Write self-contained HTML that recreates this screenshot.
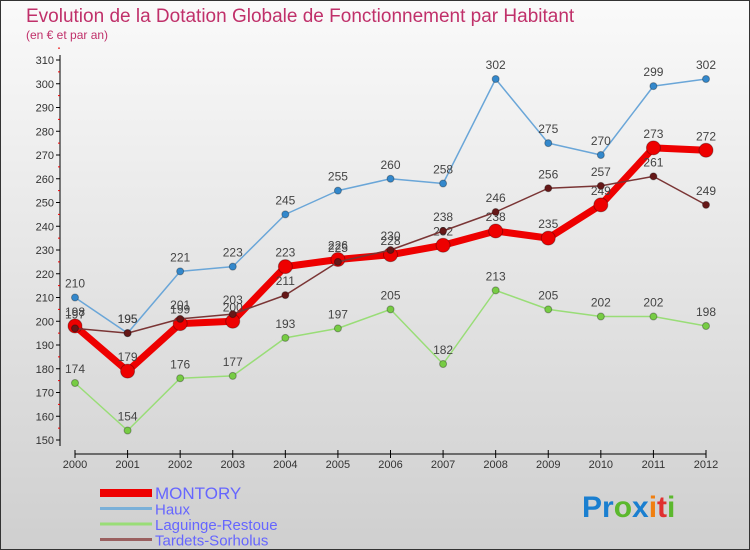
<!DOCTYPE html>
<html><head><meta charset="utf-8"><style>
body{margin:0;width:750px;height:550px;overflow:hidden;font-family:"Liberation Sans",sans-serif}
svg{display:block}
</style></head><body>
<svg id="c" width="750" height="550" xmlns="http://www.w3.org/2000/svg">
<defs><linearGradient id="bg" x1="0" y1="0" x2="0" y2="1"><stop offset="0" stop-color="#fafafa"/><stop offset="1" stop-color="#cfcfcf"/></linearGradient></defs>
<rect x="0.5" y="0.5" width="749" height="549" fill="url(#bg)" stroke="#333"/>
<text x="26" y="22" font-size="19" fill="#c0306a">Evolution de la Dotation Globale de Fonctionnement par Habitant</text>
<text x="26" y="39" font-size="12" fill="#c0306a">(en € et par an)</text>
<g id="axes"></g><g id="series"></g><g id="legend"></g>
<text x="582" y="517" font-size="30" font-weight="bold"><tspan fill="#1a7fd0">Pr</tspan><tspan fill="#5cb82e">o</tspan><tspan fill="#1a7fd0">x</tspan><tspan fill="#f07f10">i</tspan><tspan fill="#e03030">t</tspan><tspan fill="#5cb82e">i</tspan></text>
</svg>
<script>
const years=[2000,2001,2002,2003,2004,2005,2006,2007,2008,2009,2010,2011,2012];
const yTicks=[150,160,170,180,190,200,210,220,230,240,250,260,270,280,290,300,310];
const montory=[198,179,199,200,223,226,228,232,238,235,249,273,272];
const haux=[210,195,221,223,245,255,260,258,302,275,270,299,302];
const laguinge=[174,154,176,177,193,197,205,182,213,205,202,202,198];
const tardets=[197,195,201,203,211,225,230,238,246,256,257,261,249];
const NS="http://www.w3.org/2000/svg";
const X=i=>75+i*(706-75)/12;
const Y=v=>440-(v-150)*(380/160);
function mk(t,a,p){const e=document.createElementNS(NS,t);for(const k in a)e.setAttribute(k,a[k]);p.appendChild(e);return e;}
const ax=document.getElementById('axes');
let l=mk('line',{x1:60,y1:55,x2:60,y2:446,stroke:'#000'},ax);


l=mk('line',{x1:75,y1:454,x2:706,y2:454,stroke:'#000'},ax);


yTicks.forEach(v=>{
 mk('line',{x1:56,y1:Y(v),x2:60,y2:Y(v),stroke:'#000'},ax);
 mk('line',{x1:58,y1:Y(v+5),x2:60,y2:Y(v+5),stroke:'#e00'},ax);
 const t=mk('text',{x:54,y:Y(v)+4,'font-size':11,fill:'#333','text-anchor':'end'},ax);t.textContent=v;
 
 
});
years.forEach((yr,i)=>{
 mk('line',{x1:X(i),y1:450,x2:X(i),y2:458,stroke:'#000'},ax);
 const t=mk('text',{x:X(i),y:468,'font-size':11,fill:'#333','text-anchor':'middle'},ax);t.textContent=yr;
 
 
});
const sg=document.getElementById('series');
function series(name,data,color,dot,w,r){
 const g=mk('g',{},sg);
 
 
 const p=mk('polyline',{points:data.map((v,i)=>X(i)+','+Y(v)).join(' '),fill:'none',stroke:color,'stroke-width':w,'stroke-linejoin':'round'},g);
 
 
 data.forEach((v,i)=>{
  const c=mk('circle',{cx:X(i),cy:Y(v),r:r,fill:dot,stroke:'rgba(0,0,0,0.3)'},g);
  
  
  const t=mk('text',{x:X(i),y:Y(v)-10,'font-size':12,fill:'#444','text-anchor':'middle'},g);t.textContent=v;
  
  
 });
}
series('laguinge',laguinge,'#99dd77','#77cc44',1.5,3.5);
series('haux',haux,'#6aa6d8','#3388cc',1.5,3.5);
series('montory',montory,'#ee0000','#ee0000',7,7);
series('tardets',tardets,'#7a3535','#661818',1.5,3.5);
const lg=document.getElementById('legend');
const items=[['MONTORY','#ee0000',8,'montory'],['Haux','#7ab0d8',3,'haux'],['Laguinge-Restoue','#99dd77',3,'laguinge'],['Tardets-Sorholus','#9a6060',3,'tardets']];
items.forEach((it,i)=>{
 const y=493+i*15.5;
 const r=mk('rect',{x:100,y:y-it[2]/2,width:52,height:it[2],fill:it[1]},lg);
 
 
 const t=mk('text',{x:155,y:y+6,'font-size':i?15:17,fill:'#6666ff'},lg);t.textContent=it[0];
 
 
});
</script>
</body></html>
